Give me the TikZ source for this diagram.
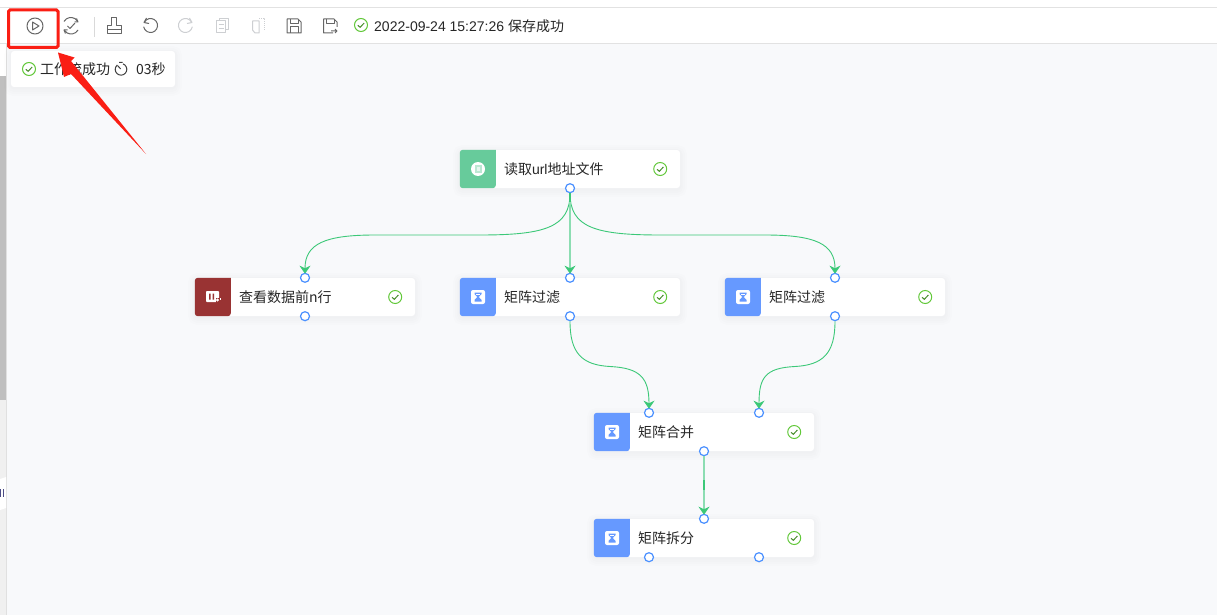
\documentclass[tikz,border=0pt]{standalone}
\usepackage{fontspec}
\setmainfont{Liberation Sans}
\newfontfamily\cjk{Noto Sans CJK SC}
\usetikzlibrary{arrows.meta, calc}
\definecolor{canvasbg}{HTML}{F8F9FB}
\definecolor{rulegrey}{HTML}{E2E2E2}
\definecolor{flowgreen}{HTML}{3CC878}
\definecolor{flowfaint}{HTML}{8CDDB2}
\definecolor{portblue}{HTML}{4A90FF}
\definecolor{iconblue}{HTML}{6699FF}
\definecolor{icongreen}{HTML}{67CB9B}
\definecolor{iconred}{HTML}{993333}
\definecolor{okgreen}{HTML}{62C83A}
\definecolor{toolgrey}{HTML}{666666}
\definecolor{toolfaint}{HTML}{CDCFD2}
\definecolor{markred}{HTML}{FA1E14}
\tikzstyle{card} = [rectangle, rounded corners=3pt, minimum width=220pt, minimum height=38pt, inner sep=0pt, fill=white,
  preaction={draw=black, draw opacity=.006, line width=14pt, transform canvas={yshift=-2pt}},
  preaction={draw=black, draw opacity=.007, line width=10pt, transform canvas={yshift=-2pt}},
  preaction={draw=black, draw opacity=.008, line width=6pt, transform canvas={yshift=-2pt}},
  preaction={draw=black, draw opacity=.008, line width=3pt, transform canvas={yshift=-1pt}}]
\tikzstyle{cardtext} = [anchor=west, inner sep=0pt, text=black!85, font=\fontsize{14}{16}\selectfont\cjk]
\tikzstyle{port} = [circle, minimum size=9pt, inner sep=0pt, draw=portblue, line width=1.2pt, fill=white]
\tikzstyle{arrow} = [draw=flowgreen, line width=.9pt, shorten >=-1pt, -{Stealth[length=8pt, width=11pt, inset=2.5pt, color=flowgreen]}]
\tikzstyle{straight} = [arrow, draw=flowfaint, line width=1.5pt]
\tikzstyle{flowmark} = [draw=flowgreen, line width=1.8pt]
\tikzstyle{tool} = [draw=toolgrey, line width=1pt, line join=round]
\tikzstyle{faint} = [tool, draw=toolfaint]
\tikzset{
  okmark/.pic={
    \draw [okgreen, line width=1pt] (0,0) circle (6.5);
    \draw [okgreen!70!black, line width=1pt] (-3.2,.3) -- (-.9,2.3) -- (3.2,-2);
  },
  glass/.pic={
    \fill [white, rounded corners=2pt] (-7,-7) rectangle (7,7);
    \fill [iconblue] (-3.5,-4.5) -- (3.5,-4.5) -- (3.5,-3) -- (.8,0) -- (3.5,3) -- (3.5,4.5) -- (-3.5,4.5) -- (-3.5,3) -- (-.8,0) -- (-3.5,-3) -- cycle;
    \fill [white] (-2,-3.3) rectangle (2,-2.3);
  }
}
\newcommand{\flowcard}[4]{
  \node (#1) [card] at (#2) {};
  \fill [#3, rounded corners=3pt] ([xshift=36pt]#1.north west) -- (#1.north west) -- (#1.south west) -- ([xshift=36pt]#1.south west) [sharp corners] -- cycle;
  \node (#1text) [cardtext] at ([xshift=44pt]#1.west) {#4};
  \pic at ([xshift=-20pt]#1.east) {okmark};
}
\begin{document}
\begin{tikzpicture}[x=1pt, y=-1pt]
\useasboundingbox (0,0) rectangle (1217,615);
% page
\fill [canvasbg] (0,0) rectangle (1217,615);
\fill [white] (0,0) rectangle (1217,43);
\draw [rulegrey] (0,7.5) -- (1217,7.5);
\draw [rulegrey] (0,43.5) -- (1217,43.5);
\fill [white] (0,44) rectangle (6,76);
\fill [black!25] (0,76) rectangle (6,400);
\fill [black!6] (0,400) rectangle (6,615);
\draw [black!12] (6.5,44) -- (6.5,615);
\fill [white] (0,479) -- (6,477) -- (6,508) -- (0,510) -- cycle;
\fill [black!45!blue!40!gray] (0,489) rectangle (1,497);
\fill [black!45!blue!40!gray] (2.5,489) rectangle (3.5,497);
% toolbar
\draw [tool] (35,26) circle (8);
\draw [tool] (32.5,22) -- (39,26) -- (32.5,30) -- cycle;
\draw [tool] (64,21.5) arc (-150:-30:8);
\draw [tool] (78,30) arc (30:150:8);
\draw [tool] (76.5,18.5) -- (78,22) -- (74.5,22);
\draw [tool] (65.5,33.5) -- (64,30) -- (67.5,30);
\draw [tool] (67.5,26) -- (70,28.5) -- (75,23);
\draw [black!15] (94.5,17) -- (94.5,37);
\draw [tool] (111,26) -- (111,18) -- (116,18) -- (116,26) -- (121,26) -- (121,34) -- (107,34) -- (107,26) -- cycle;
\draw [tool] (107,30) -- (121,30);
\draw [tool] (144.5,22) arc (-150:170:7);
\draw [tool] (146.5,18) -- (144,22.5) -- (149,23.5);
\draw [faint] (191.5,22) arc (-30:-350:7);
\draw [faint] (189.5,18) -- (192,22.5) -- (187,23.5);
\draw [faint] (216.5,21) rectangle (225.5,33);
\draw [faint] (219,21) -- (219,18.5) -- (228,18.5) -- (228,30) -- (225.5,30);
\draw [faint] (218.5,25) -- (223.5,25) (218.5,28.5) -- (223.5,28.5);
\draw [faint] (252.5,21) -- (259,21) -- (259,33) -- (255,33) -- (252.5,30) -- cycle;
\draw [faint, densely dotted] (259,18.5) -- (264,18.5) -- (264,30);
\draw [tool] (287,19) -- (298,19) -- (301,22) -- (301,33) -- (287,33) -- cycle;
\draw [tool] (290,19) -- (290,23.5) -- (298,23.5) -- (298,19);
\draw [tool] (290,33) -- (290,27) -- (298,27) -- (298,33);
\draw [tool] (333,33) -- (323.5,33) -- (323.5,19) -- (334,19) -- (337,22) -- (337,27);
\draw [tool] (326.5,19) -- (326.5,23.5) -- (334,23.5) -- (334,19);
\draw [tool] (331,31) -- (337,31) (335,29) -- (337,31) -- (335,33);
\pic at (361,25) {okmark};
\node (savetext) [cardtext, font=\fontsize{14}{16}\selectfont] at (374,26) {2022-09-24 15:27:26 {\cjk 保存成功}};
% result popup
\node (popup) [card, minimum width=164pt, minimum height=36pt] at (93,69) {};
\pic at (29,69) {okmark};
\node (runtext) [cardtext] at (40,69) {工作流成功};
\draw [tool, draw=black!75] (123,63.9) arc (-70:230:5.8);
\draw [tool, draw=black!75] (119,62.5) -- (122.5,62.5) (120.7,69) -- (117.5,65.5);
\node (timetext) [cardtext] at (136,69) {03秒};
% nodes
\flowcard{reader}{570,169}{icongreen}{读取{\rmfamily url}地址文件}
\flowcard{preview}{305,297}{iconred}{查看数据前n行}
\flowcard{filterA}{570,297}{iconblue}{矩阵过滤}
\flowcard{filterB}{835,297}{iconblue}{矩阵过滤}
\flowcard{merge}{704,432}{iconblue}{矩阵合并}
\flowcard{split}{704,538}{iconblue}{矩阵拆分}
% icons
\fill [white] (478,169) circle (7);
\fill [icongreen!45!white] (474.5,165) rectangle (481.5,173);
\fill [white!85!icongreen] (476.5,167) rectangle (479.5,171);
\fill [white, rounded corners=.8pt] (206,291) rectangle (219,302);
\fill [iconred] (209,293.5) rectangle (210.5,299.5) (212.5,293.5) rectangle (214,299.5);
\fill [iconred] (215.5,298) rectangle (221,303);
\fill [white] (217.5,300) circle (1.6);
\fill [white] (219.5,298) rectangle (221,299.5);
\pic at (478,297) {glass};
\pic at (743,297) {glass};
\pic at (612,432) {glass};
\pic at (612,538) {glass};
% ports
\node (readerout) [port] at (reader.south) {};
\node (previewin) [port] at (preview.north) {};
\node (previewout) [port] at (preview.south) {};
\node (filterAin) [port] at (filterA.north) {};
\node (filterAout) [port] at (filterA.south) {};
\node (filterBin) [port] at (filterB.north) {};
\node (filterBout) [port] at (filterB.south) {};
\node (mergeinA) [port] at ([xshift=-55pt]merge.north) {};
\node (mergeinB) [port] at ([xshift=55pt]merge.north) {};
\node (mergeout) [port] at (merge.south) {};
\node (splitin) [port] at (split.north) {};
\node (splitoutA) [port] at ([xshift=-55pt]split.south) {};
\node (splitoutB) [port] at ([xshift=55pt]split.south) {};
\coordinate (midA) at (610,366.5);
\coordinate (midB) at (795,366.5);
% connectors
\draw [arrow] (readerout.south) .. controls +(0,34) and +(65,0) .. (480,235) -- (375,235) .. controls +(-50,0) and +(0,-29) .. (previewin.north);
\draw [arrow] (readerout.south) .. controls +(0,34) and +(-65,0) .. (660,235) -- (765,235) .. controls +(50,0) and +(0,-29) .. (filterBin.north);
\draw [straight] (readerout.south) -- (filterAin.north);
\draw [flowmark] (readerout.south) -- ($(readerout)!.15!(filterAin)$);
\draw [arrow] (filterAout.south) .. controls +(0,32) and +(-28,-1.5) .. (midA) .. controls +(30,1.5) and +(0,-30) .. (mergeinA.north);
\draw [arrow] (filterBout.south) .. controls +(0,32) and +(28,-1.5) .. (midB) .. controls +(-30,1.5) and +(0,-30) .. (mergeinB.north);
\draw [straight] (mergeout.south) -- (splitin.north);
\draw [flowmark] ($(mergeout)!.43!(splitin)$) -- ($(mergeout)!.57!(splitin)$);
% red marks
\draw [markred, line width=3pt, rounded corners=1.5pt] (8.5,10) rectangle (58,47.5);
\fill [markred] (58,52.5) -- (74.5,57.5) -- (71,61) -- (146,154) -- (71,74) -- (64,77) -- cycle;
\end{tikzpicture}
\end{document}
